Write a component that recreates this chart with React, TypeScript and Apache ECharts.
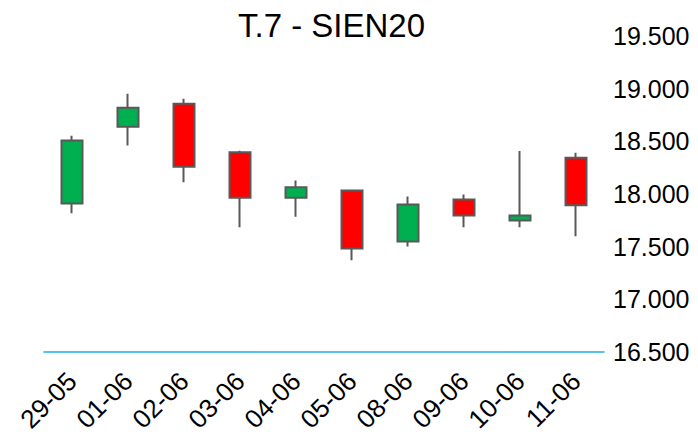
import React, { useEffect, useRef } from "react";
import * as echarts from "echarts";

const categories = ["29-05", "01-06", "02-06", "03-06", "04-06", "05-06", "08-06", "09-06", "10-06", "11-06"];
// [open, close, low, high]
const opens = [17910, 18640, 18859, 18398, 17964, 18033, 17548, 17948, 17748, 18345];
const closes = [18510, 18821, 18259, 17964, 18065, 17481, 17900, 17795, 17795, 17893];
const lows = [17817, 18462, 18112, 17684, 17783, 17370, 17500, 17684, 17684, 17598];
const highs = [18554, 18954, 18907, 18411, 18129, 18043, 17976, 17995, 18408, 18392];
const titleText = "T.7 - SIEN20";
const yMin = 16500;
const yMax = 19500;
const yStep = 500;

const FONT = "'Liberation Sans', Arial, sans-serif";

export default function App() {
  const ref = useRef<HTMLDivElement>(null);
  useEffect(() => {
    if (!ref.current) return;
    const chart = echarts.init(ref.current, undefined, { renderer: "svg" });
    const data = categories.map((_, i) => [opens[i], closes[i], lows[i], highs[i]]);
    chart.setOption({
      animation: false,
      backgroundColor: "#ffffff",
      graphic: [
        {
          type: "text",
          x: 331.5,
          y: 25.5,
          style: {
            text: titleText,
            font: `33px ${FONT}`,
            fill: "#000000",
            textAlign: "center",
            textVerticalAlign: "middle",
          },
        },
      ],
      grid: {
        left: 44,
        right: 94,
        top: 36.3,
        bottom: 82.3,
        containLabel: false,
        outerBoundsMode: "none",
      },
      xAxis: {
        type: "category",
        data: categories,
        boundaryGap: true,
        axisLine: { show: true, lineStyle: { color: "#1EB1E4", width: 1.5 } },
        axisTick: { show: false },
        splitLine: { show: false },
        axisLabel: {
          rotate: 45,
          margin: 25,
          fontSize: 26,
          fontFamily: FONT,
          color: "#000000",
          interval: 0,
        },
      },
      yAxis: {
        type: "value",
        position: "right",
        min: yMin,
        max: yMax,
        interval: yStep,
        scale: true,
        axisLine: { show: false },
        axisTick: { show: false },
        splitLine: { show: false },
        axisLabel: {
          margin: 9,
          fontSize: 25,
          fontFamily: FONT,
          color: "#000000",
          formatter: (v: number) => {
            const s = Math.round(v).toString();
            return s.replace(/\B(?=(\d{3})+(?!\d))/g, ".");
          },
        },
      },
      series: [
        {
          type: "candlestick",
          data,
          barWidth: 21,
          itemStyle: {
            color: "#00B050",
            color0: "#FF0000",
            borderColor: "#595959",
            borderColor0: "#595959",
            borderWidth: 2,
          },
        },
      ],
    });
    return () => chart.dispose();
  }, []);
  return <div ref={ref} style={{ width: 698, height: 434, position: "absolute", left: 0, top: 0 }} />;
}
